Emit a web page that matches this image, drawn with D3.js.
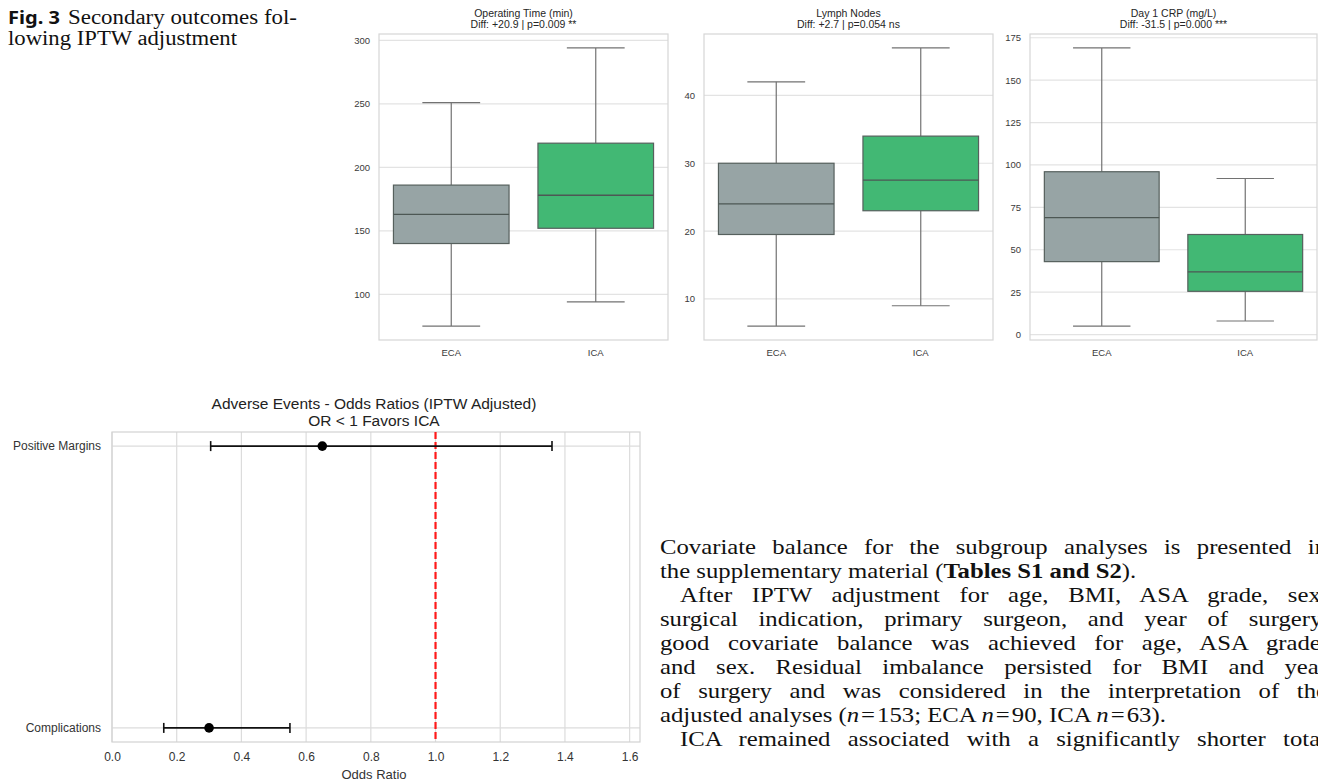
<!DOCTYPE html>
<html>
<head>
<meta charset="utf-8">
<script src="https://cdn.jsdelivr.net/npm/d3@7"></script>
<style>
  body { margin: 0; background: #fff; }
  svg { display: block; }
</style>
</head>
<body>
<svg width="1318" height="781"></svg>
<script>
// ---- data ----
var groups = ["ECA", "ICA"];
var outcomeTitles = ["Operating Time (min)", "Lymph Nodes", "Day 1 CRP (mg/L)"];
var outcomeStats = ["Diff: +20.9 | p=0.009 **", "Diff: +2.7 | p=0.054 ns", "Diff: -31.5 | p=0.000 ***"];
// [lower whisker, q1, median, q3, upper whisker] for ECA, ICA
var opTime = [[75, 140, 163, 186, 251], [94, 152, 178, 219, 294]];
var lymphNodes = [[6, 19.5, 24, 30, 42], [9, 23, 27.5, 34, 47]];
var crpDay1 = [[5, 43, 69, 96, 169], [8, 25.5, 37, 59, 92]];
var opTicks = [100, 150, 200, 250, 300];
var lymphTicks = [10, 20, 30, 40];
var crpTicks = [0, 25, 50, 75, 100, 125, 150, 175];

var events = ["Complications", "Positive Margins"];
var oddsRatio = [0.30, 0.65];
var ciLow = [0.16, 0.305];
var ciHigh = [0.55, 1.36];
var orTicks = [0, 0.2, 0.4, 0.6, 0.8, 1.0, 1.2, 1.4, 1.6];

var groupColor = ["#97a4a5", "#42b874"];

var svg = d3.select("svg");
var sans = "'Liberation Sans', Arial, sans-serif";
var serif = "'Liberation Serif', 'Times New Roman', serif";

// ---- caption ----
svg.append("text").attr("x", 8).attr("y", 24)
    .style("font-family", "'Noto Sans', sans-serif").style("font-weight", "bold")
    .style("font-size", "17px").attr("fill", "#111")
    .attr("textLength", 52).attr("lengthAdjust", "spacingAndGlyphs")
    .text("Fig. 3");
svg.append("text").attr("x", 68).attr("y", 24)
    .style("font-family", serif).style("font-size", "20px").attr("fill", "#111")
    .attr("textLength", 229).attr("lengthAdjust", "spacingAndGlyphs")
    .text("Secondary outcomes fol-");
svg.append("text").attr("x", 8).attr("y", 45)
    .style("font-family", serif).style("font-size", "20px").attr("fill", "#111")
    .attr("textLength", 229).attr("lengthAdjust", "spacingAndGlyphs")
    .text("lowing IPTW adjustment");

// ---- box plots ----
var panels = [
  {data: opTime, ticks: opTicks, x0: 379, x1: 668},
  {data: lymphNodes, ticks: lymphTicks, x0: 704, x1: 993},
  {data: crpDay1, ticks: crpTicks, x0: 1030, x1: 1317}
];
var boxTop = 34, boxBottom = 340;

panels.forEach(function(p, i) {
  var all = d3.merge(p.data);
  var lo = d3.min(all), hi = d3.max(all), pad = (hi - lo) * 0.05;
  var y = d3.scaleLinear().domain([lo - pad, hi + pad]).range([boxBottom, boxTop]);
  var x = d3.scaleBand().domain(groups).range([p.x0, p.x1])
      .paddingInner(0.2).paddingOuter(0.1);

  var g = svg.append("g");

  g.selectAll("line.grid").data(p.ticks).enter().append("line")
      .attr("x1", p.x0).attr("x2", p.x1)
      .attr("y1", function(d) { return y(d); }).attr("y2", function(d) { return y(d); })
      .attr("stroke", "#e3e3e3").attr("stroke-width", 1.2);

  g.append("rect").attr("x", p.x0).attr("y", boxTop)
      .attr("width", p.x1 - p.x0).attr("height", boxBottom - boxTop)
      .attr("fill", "none").attr("stroke", "#d6d6d6").attr("stroke-width", 1.2);

  var ya = g.append("g").attr("transform", "translate(" + p.x0 + ",0)")
      .call(d3.axisLeft(y).tickValues(p.ticks).tickSize(0).tickPadding(9));
  ya.select(".domain").remove();
  ya.selectAll("text").style("font-family", sans).style("font-size", "9.5px").attr("fill", "#3a3a3a");

  var xa = g.append("g").attr("transform", "translate(0," + boxBottom + ")")
      .call(d3.axisBottom(x).tickSize(0).tickPadding(9));
  xa.select(".domain").remove();
  xa.selectAll("text").style("font-family", sans).style("font-size", "9.5px").attr("fill", "#3a3a3a");

  var bw = x.bandwidth();
  var boxes = g.selectAll("g.box").data(p.data).enter().append("g");
  boxes.each(function(d, j) {
    var b = d3.select(this);
    var cx = x(groups[j]) + bw / 2;
    b.append("line").attr("x1", cx).attr("x2", cx).attr("y1", y(d[0])).attr("y2", y(d[1]))
        .attr("stroke", "#727272").attr("stroke-width", 1.2);
    b.append("line").attr("x1", cx).attr("x2", cx).attr("y1", y(d[3])).attr("y2", y(d[4]))
        .attr("stroke", "#727272").attr("stroke-width", 1.2);
    [d[0], d[4]].forEach(function(v) {
      b.append("line").attr("x1", cx - bw / 4).attr("x2", cx + bw / 4)
          .attr("y1", y(v)).attr("y2", y(v))
          .attr("stroke", "#727272").attr("stroke-width", 1.2);
    });
    b.append("rect").attr("x", x(groups[j])).attr("width", bw)
        .attr("y", y(d[3])).attr("height", y(d[1]) - y(d[3]))
        .attr("fill", groupColor[j]).attr("stroke", "#56605d").attr("stroke-width", 1.2);
    b.append("line").attr("x1", x(groups[j])).attr("x2", x(groups[j]) + bw)
        .attr("y1", y(d[2])).attr("y2", y(d[2]))
        .attr("stroke", "#4d5754").attr("stroke-width", 1.3);
  });

  var cx = (p.x0 + p.x1) / 2;
  g.append("text").attr("x", cx).attr("y", 17).attr("text-anchor", "middle")
      .style("font-family", sans).style("font-size", "10.5px").attr("fill", "#262626")
      .text(outcomeTitles[i]);
  g.append("text").attr("x", cx).attr("y", 28).attr("text-anchor", "middle")
      .style("font-family", sans).style("font-size", "10.5px").attr("fill", "#262626")
      .text(outcomeStats[i]);
});

// ---- forest plot ----
var fx0 = 112, fx1 = 640, fy0 = 432, fy1 = 742;
var fx = d3.scaleLinear().domain([0, d3.max(ciHigh) * 1.2]).range([fx0, fx1]);
var fy = d3.scaleLinear().domain([-0.05, events.length - 1 + 0.05]).range([fy1, fy0]);
var fg = svg.append("g");

fg.selectAll("line.vg").data(orTicks).enter().append("line")
    .attr("x1", function(d) { return fx(d); }).attr("x2", function(d) { return fx(d); })
    .attr("y1", fy0).attr("y2", fy1).attr("stroke", "#dcdcdc").attr("stroke-width", 1.2);
fg.selectAll("line.hg").data(events).enter().append("line")
    .attr("x1", fx0).attr("x2", fx1)
    .attr("y1", function(d, i) { return fy(i); }).attr("y2", function(d, i) { return fy(i); })
    .attr("stroke", "#dcdcdc").attr("stroke-width", 1.2);
fg.append("rect").attr("x", fx0).attr("y", fy0).attr("width", fx1 - fx0).attr("height", fy1 - fy0)
    .attr("fill", "none").attr("stroke", "#d2d2d2").attr("stroke-width", 1.2);

var fxa = fg.append("g").attr("transform", "translate(0," + fy1 + ")")
    .call(d3.axisBottom(fx).tickValues(orTicks).tickFormat(d3.format(".1f")).tickSize(0).tickPadding(10));
fxa.select(".domain").remove();
fxa.selectAll("text").style("font-family", sans).style("font-size", "12px").attr("fill", "#333");

var fya = fg.append("g").attr("transform", "translate(" + fx0 + ",0)")
    .call(d3.axisLeft(fy).tickValues(d3.range(events.length))
      .tickFormat(function(i) { return events[i]; }).tickSize(0).tickPadding(11));
fya.select(".domain").remove();
fya.selectAll("text").style("font-family", sans).style("font-size", "12px").attr("fill", "#333");

fg.append("line").attr("x1", fx(1)).attr("x2", fx(1)).attr("y1", fy0).attr("y2", fy1)
    .attr("stroke", "#ff1a1a").attr("stroke-width", 2.2).attr("stroke-dasharray", "7,3");

var rows = fg.selectAll("g.row").data(events).enter().append("g");
rows.append("line")
    .attr("x1", function(d, i) { return fx(ciLow[i]); })
    .attr("x2", function(d, i) { return fx(ciHigh[i]); })
    .attr("y1", function(d, i) { return fy(i); }).attr("y2", function(d, i) { return fy(i); })
    .attr("stroke", "#111").attr("stroke-width", 1.6);
rows.append("line")
    .attr("x1", function(d, i) { return fx(ciLow[i]); }).attr("x2", function(d, i) { return fx(ciLow[i]); })
    .attr("y1", function(d, i) { return fy(i) - 5; }).attr("y2", function(d, i) { return fy(i) + 5; })
    .attr("stroke", "#111").attr("stroke-width", 1.6);
rows.append("line")
    .attr("x1", function(d, i) { return fx(ciHigh[i]); }).attr("x2", function(d, i) { return fx(ciHigh[i]); })
    .attr("y1", function(d, i) { return fy(i) - 5; }).attr("y2", function(d, i) { return fy(i) + 5; })
    .attr("stroke", "#111").attr("stroke-width", 1.6);
rows.append("circle")
    .attr("cx", function(d, i) { return fx(oddsRatio[i]); })
    .attr("cy", function(d, i) { return fy(i); })
    .attr("r", 4.8).attr("fill", "#000");

var fcx = (fx0 + fx1) / 2 - 2;
fg.append("text").attr("x", fcx).attr("y", 409).attr("text-anchor", "middle")
    .style("font-family", sans).style("font-size", "15.5px").attr("fill", "#222")
    .text("Adverse Events - Odds Ratios (IPTW Adjusted)");
fg.append("text").attr("x", fcx).attr("y", 426).attr("text-anchor", "middle")
    .style("font-family", sans).style("font-size", "15.5px").attr("fill", "#222")
    .text("OR < 1 Favors ICA");
fg.append("text").attr("x", fcx).attr("y", 779).attr("text-anchor", "middle")
    .style("font-family", sans).style("font-size", "13px").attr("fill", "#333")
    .text("Odds Ratio");

// ---- body text ----
var bodyLines = [
  {ind: 0, just: true, parts: [["Covariate balance for the subgroup analyses is presented in", ""]]},
  {ind: 0, just: false, parts: [["the supplementary material (", ""], ["Tables S1 and S2", "b"], [").", ""]]},
  {ind: 1, just: true, parts: [["After IPTW adjustment for age, BMI, ASA grade, sex,", ""]]},
  {ind: 0, just: true, parts: [["surgical indication, primary surgeon, and year of surgery,", ""]]},
  {ind: 0, just: true, parts: [["good covariate balance was achieved for age, ASA grade,", ""]]},
  {ind: 0, just: true, parts: [["and sex. Residual imbalance persisted for BMI and year", ""]]},
  {ind: 0, just: true, parts: [["of surgery and was considered in the interpretation of the", ""]]},
  {ind: 0, just: false, parts: [["adjusted analyses (", ""], ["n", "i"], ["\u200a=\u200a153; ECA ", ""], ["n", "i"],
      ["\u200a=\u200a90, ICA ", ""], ["n", "i"], ["\u200a=\u200a63).", ""]]},
  {ind: 1, just: true, parts: [["ICA remained associated with a significantly shorter total", ""]]}
];
// the scanned column is a little wider than the font's own metrics
var textLeft = 660, rightEdge = 1327, indent = 20, sx = 1.15;
var body = svg.append("g").attr("transform", "translate(" + textLeft + ",0) scale(" + sx + ",1)");
bodyLines.forEach(function(l, k) {
  var x = l.ind * indent / sx;
  var t = body.append("text").attr("x", x).attr("y", 554 + k * 24)
      .style("font-family", serif).style("font-size", "21.5px").attr("fill", "#111");
  l.parts.forEach(function(p) {
    var s = t.append("tspan").text(p[0]);
    if (p[1] === "b") s.style("font-weight", "bold");
    if (p[1] === "i") s.style("font-style", "italic");
  });
  if (l.just) {
    var w = t.node().getComputedTextLength();
    var spaces = l.parts[0][0].split(" ").length - 1;
    var target = (rightEdge - textLeft) / sx - x;
    t.style("word-spacing", Math.max(0, (target - w) / spaces) + "px");
  }
});
</script>
</body>
</html>
